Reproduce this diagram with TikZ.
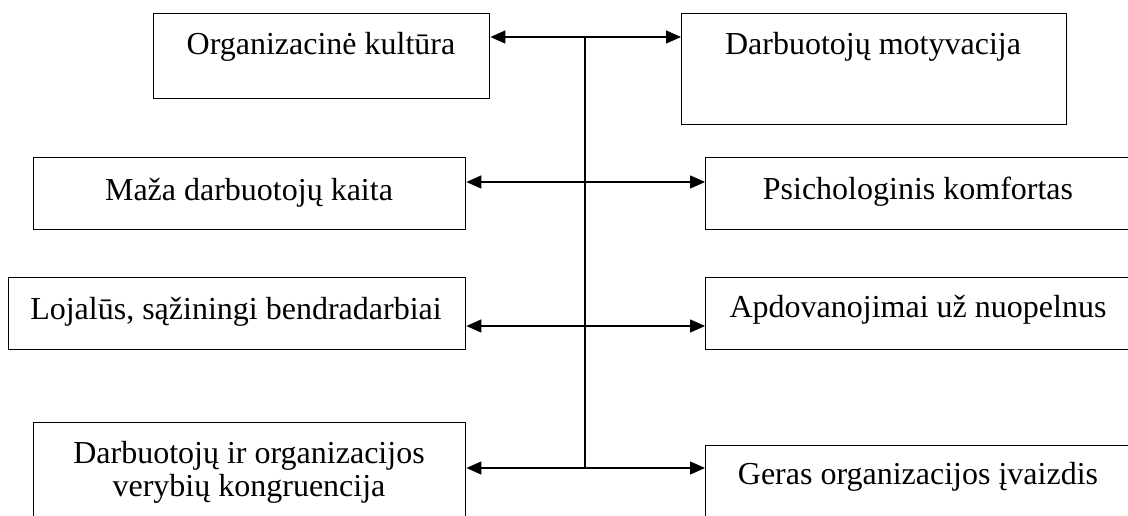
\documentclass[tikz,border=0pt]{standalone}
\usepackage{fontspec}
\setmainfont{Liberation Serif}
\usetikzlibrary{arrows.meta}
\begin{document}
\begin{tikzpicture}[x=1pt,y=-1pt,
  box/.style={draw=black,line width=1.4pt,inner sep=0pt,anchor=north west},
  txt/.style={anchor=base,inner sep=0pt,font=\fontsize{32}{33}\selectfont,align=center},
  link/.style={line width=1.4pt,{Triangle[length=15pt,width=13pt]}-{Triangle[length=15pt,width=13pt]}},
  trunk/.style={line width=1.4pt}]
\useasboundingbox (0,0) rectangle (1128,515);
\clip (0,0) rectangle (1128,515);
% boxes
\node[box,minimum width=336pt,minimum height=85pt] (b1) at (153,13) {};
\node[box,minimum width=385pt,minimum height=111pt] (b2) at (681,13) {};
\node[box,minimum width=432pt,minimum height=72pt] (b3) at (33,157) {};
\node[box,minimum width=427pt,minimum height=72pt] (b4) at (705,157) {};
\node[box,minimum width=457pt,minimum height=72pt] (b5) at (8,277) {};
\node[box,minimum width=427pt,minimum height=72pt] (b6) at (705,277) {};
\node[box,minimum width=432pt,minimum height=110pt] (b7) at (33,422) {};
\node[box,minimum width=427pt,minimum height=90pt] (b8) at (705,445) {};
% texts
\node[txt] (t1) at (321,54) {Organizacinė kultūra};
\node[txt] (t2) at (873,54) {Darbuotojų motyvacija};
\node[txt] (t3) at (249,200) {Maža darbuotojų kaita};
\node[txt] (t4) at (918,199) {Psichologinis komfortas};
\node[txt] (t5) at (236,319) {Lojalūs, sąžiningi bendradarbiai};
\node[txt] (t6) at (918,317) {Apdovanojimai už nuopelnus};
\node[txt] (t7) at (249,496) {Darbuotojų ir organizacijos\\verybių kongruencija};
\node[txt] (t8) at (918,484) {Geras organizacijos įvaizdis};
% trunk
\coordinate (r1) at (585,37);
\coordinate (r2) at (585,182);
\coordinate (r3) at (585,326);
\coordinate (r4) at (585,468);
\draw[trunk] (r1) -- (r4);
% connectors
\draw[link] (b1.east |- r1) -- (b2.west |- r1);
\draw[link] (b3.east |- r2) -- (b4.west |- r2);
\draw[link] (b5.east |- r3) -- (b6.west |- r3);
\draw[link] (b7.east |- r4) -- (b8.west |- r4);
\end{tikzpicture}
\end{document}
